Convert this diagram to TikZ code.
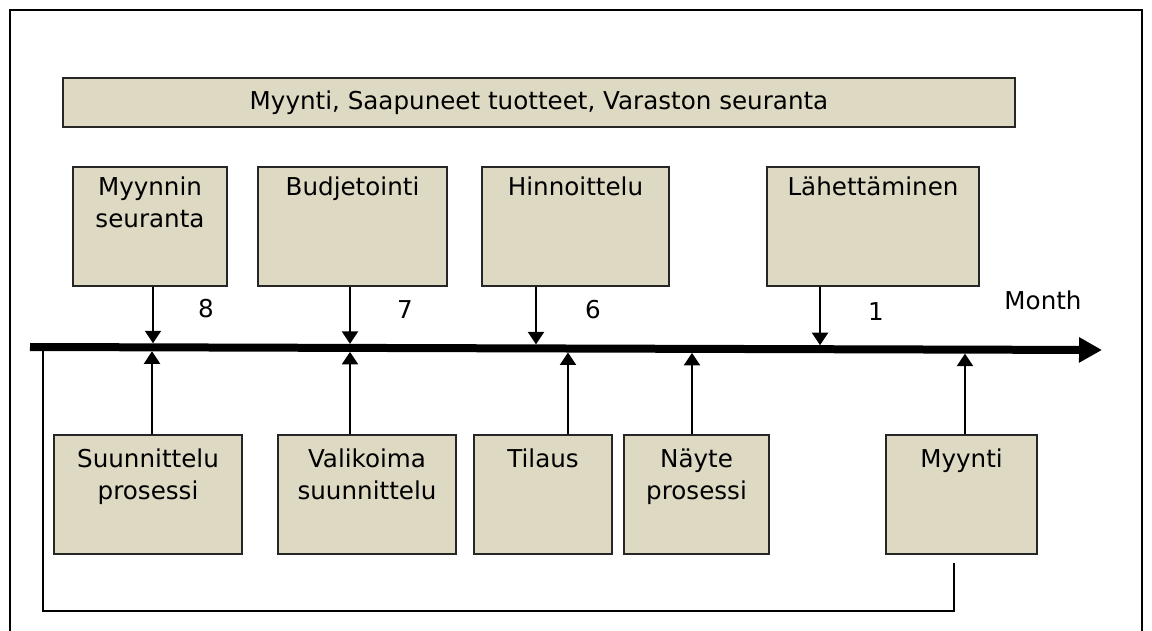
\documentclass[tikz,border=0pt]{standalone}
\usepackage{fontspec}
\setmainfont{DejaVu Sans}
\usetikzlibrary{arrows.meta}
\definecolor{boxfill}{HTML}{DDD9C3}
\tikzset{main node/.style={draw=black!85,fill=boxfill,line width=1pt,align=center,inner sep=0pt,font=\fontsize{14}{18}\selectfont},
top node/.style={main node,anchor=north,text height=0.58cm,text depth=1.80cm},
top node two/.style={main node,anchor=north,text height=1.215cm,text depth=1.165cm},
low node/.style={main node,anchor=north,text height=0.66cm,text depth=1.72cm},
low node two/.style={main node,anchor=north,text height=1.295cm,text depth=1.085cm},
month label/.style={font=\fontsize{14}{18}\selectfont},
time arrow/.style={line width=1.2pt,-{Triangle[length=0.25cm,width=0.32cm]}},
}

\begin{document}
\begin{tikzpicture}[x=0.02cm,y=-0.02cm]
	\useasboundingbox (0,0) rectangle (1152,631);
	\draw[line width=1pt] (10,631) -- (10,10) -- (1142,10) -- (1142,631);
	
	\node[main node,minimum width=19.04cm,minimum height=0.98cm] (banner) at (539,102.5) {Myynti, Saapuneet tuotteet, Varaston seuranta};
	
	% upper boxes
	\node[top node two,minimum width=3.08cm] (myyseur) at (150,166) {Myynnin\\seuranta};
	\node[top node,minimum width=3.78cm] (budj) at (352.5,166) {Budjetointi};
	\node[top node,minimum width=3.74cm] (hinn) at (575.5,166) {Hinnoittelu};
	\node[top node,minimum width=4.24cm] (lahe) at (873,166) {Lähettäminen};
	
	% lower boxes
	\node[low node two,minimum width=3.76cm] (suun) at (148,434) {Suunnittelu\\prosessi};
	\node[low node two,minimum width=3.56cm] (vali) at (367,434) {Valikoima\\suunnittelu};
	\node[low node,minimum width=2.76cm] (tila) at (543,434) {Tilaus};
	\node[low node two,minimum width=2.90cm] (nayt) at (696.5,434) {Näyte\\prosessi};
	\node[low node,minimum width=3.02cm] (myyn) at (961.5,434) {Myynti};
	
	% time line
	\coordinate (tl0) at (30,347);
	\coordinate (tl1) at (1102,350);
	\draw[line width=0.16cm,-{Triangle[length=0.46cm,width=0.48cm]}] (tl0) -- (tl1);
	
	\node[month label] (m8) at (206,309) {8};
	\node[month label] (m7) at (405,310) {7};
	\node[month label] (m6) at (593,310) {6};
	\node[month label] (m1) at (876,312) {1};
	\node[month label] (month) at (1043,300) {Month};
	
	% arrows onto the line
	\coordinate (d8) at (153,343.3);
	\coordinate (d7) at (350,343.9);
	\coordinate (d6) at (536,344.4);
	\coordinate (d1) at (820,345.2);
	\coordinate (u1) at (152,351.3);
	\coordinate (u2) at (350,351.9);
	\coordinate (u3) at (568,352.5);
	\coordinate (u4) at (692,352.9);
	\coordinate (u5) at (965,353.6);
	\draw[time arrow] (myyseur.south -| d8) -- (d8);
	\draw[time arrow] (budj.south -| d7) -- (d7);
	\draw[time arrow] (hinn.south -| d6) -- (d6);
	\draw[time arrow] (lahe.south -| d1) -- (d1);
	\draw[time arrow] (suun.north -| u1) -- (u1);
	\draw[time arrow] (vali.north -| u2) -- (u2);
	\draw[time arrow] (tila.north -| u3) -- (u3);
	\draw[time arrow] (nayt.north -| u4) -- (u4);
	\draw[time arrow] (myyn.north -| u5) -- (u5);
	
	% feedback
	\coordinate (fb) at (954,563);
	\coordinate (fbend) at (43,351);
	\draw[line width=1pt] (fb) -- ++(0,48) -| (fbend);
\end{tikzpicture}
\end{document}
